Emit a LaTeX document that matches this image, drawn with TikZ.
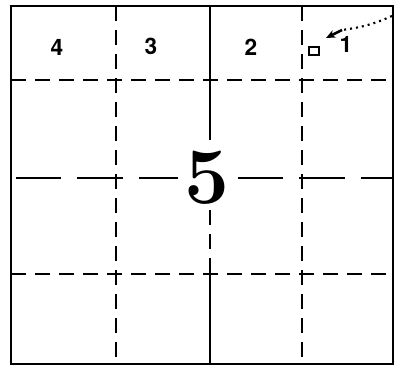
\documentclass[tikz,border=0pt]{standalone}
\usepackage{fontspec}
\setsansfont{TeX Gyre Heros}
\usetikzlibrary{arrows.meta}
\begin{document}
\begin{tikzpicture}[x=0.75pt,y=-0.75pt,
  frame/.style={line width=2.2pt},
  grid/.style={line width=1.5pt},
  dashgrid/.style={line width=1.5pt,dash pattern=on 11pt off 7pt},
  longdash/.style={line width=1.5pt,dash pattern=on 34pt off 12pt},
  num/.style={font=\sffamily\bfseries\fontsize{17}{17}\selectfont,inner sep=0pt}]
\useasboundingbox (0,0) rectangle (400,371);
% grid lines
\draw[dashgrid] (11,80) -- (393,80);
\draw[dashgrid] (11,274) -- (393,274);
\draw[longdash] (16,178) -- (178,178);
\draw[longdash] (238,178) -- (393,178);
\draw[dashgrid] (116,6) -- (116,364);
\draw[dashgrid] (302,6) -- (302,364);
\draw[grid] (210,6) -- (210,125);
\draw[dashgrid] (210,125) -- (210,148);
\draw[dashgrid] (210,210) -- (210,274);
\draw[grid] (210,274) -- (210,364);
% frame
\draw[frame] (11,6) rectangle (393,364);
% labels
\node[num] (n4) at (57,47) {4};
\node[num] (n3) at (151,46) {3};
\node[num] (n2) at (251,47) {2};
\node[num] (n1) at (346,44) {1};
\node[draw,line width=1.4pt,minimum width=8pt,minimum height=6.5pt,inner sep=0pt] (sq) at (314,51) {};
\node[inner sep=0pt,font=\bfseries\fontsize{60}{64}\selectfont] (n5) at (207,178) {5};
% arrow
\coordinate (src) at (392,16);
\coordinate (mid) at (342,30);
\draw[line width=1.6pt,dash pattern=on 1.5pt off 3pt] (src) to[bend left=8] (mid);
\draw[line width=2pt,-{Stealth[length=7pt,width=6pt]}] (mid) -- (326,38);
\end{tikzpicture}
\end{document}
